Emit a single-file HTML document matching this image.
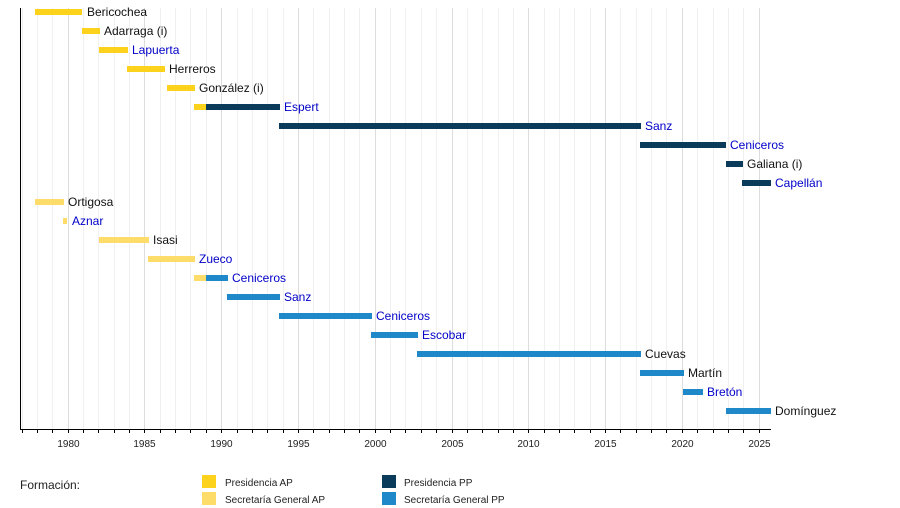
<!DOCTYPE html>
<html><head><meta charset="utf-8"><style>
html,body{margin:0;padding:0;background:#fff;width:900px;height:508px;overflow:hidden}
text{font-family:"Liberation Sans",sans-serif}
</style></head><body>
<svg width="900" height="508" xmlns="http://www.w3.org/2000/svg">
<g id="grid"></g>
<g id="bars"></g>
<line x1="20.5" y1="8" x2="20.5" y2="430" stroke="#000" stroke-width="1"/>
<line x1="20" y1="429.5" x2="771" y2="429.5" stroke="#000" stroke-width="1"/>
<g id="ticks"></g>
<text x="20" y="489" font-size="12" fill="#222">Formación:</text>
<rect x="202" y="475" width="14" height="13" fill="#fcd21c"/>
<rect x="202" y="492" width="14" height="13" fill="#fddc6a"/>
<rect x="382" y="475" width="14" height="13" fill="#0b3b5a"/>
<rect x="382" y="492" width="14" height="13" fill="#1e88c8"/>
<text x="225" y="486" font-size="10" fill="#222">Presidencia AP</text>
<text x="225" y="503" font-size="10" fill="#222">Secretaría General AP</text>
<text x="404" y="486" font-size="10" fill="#222">Presidencia PP</text>
<text x="404" y="503" font-size="10" fill="#222">Secretaría General PP</text>
</svg>
<script>
var ns="http://www.w3.org/2000/svg";
function el(p,t,a,txt){var e=document.createElementNS(ns,t);for(var k in a)e.setAttribute(k,a[k]);if(txt)e.textContent=txt;document.getElementById(p).appendChild(e);}
function X(y){return 67.6+(y-1980)*15.356;}
for(var y=1977;y<=2025;y++){var x=Math.round(X(y))+0.5;var maj=y%5==0;
el('grid','line',{x1:x,y1:8,x2:x,y2:429,stroke:maj?'#dcdcdc':'#f0f0f0','stroke-width':1});
el('ticks','line',{x1:x,y1:430,x2:x,y2:433,stroke:'#000','stroke-width':1});
if(maj)el('ticks','text',{x:x,y:447,'font-size':10,'text-anchor':'middle',fill:'#222'},String(y));}
var A='#fcd21c',L='#fddc6a',D='#0b3b5a',B='#1e88c8',BL='#0000c8',K='#111';
var rows=[
[[[35,82,A]],87,'Bericochea',K],
[[[82,100,A]],104,'Adarraga (i)',K],
[[[99,128,A]],132,'Lapuerta',BL],
[[[127,165,A]],169,'Herreros',K],
[[[167,195,A]],199,'González (i)',K],
[[[194,206,A],[206,280,D]],284,'Espert',BL],
[[[279,641,D]],645,'Sanz',BL],
[[[640,726,D]],730,'Ceniceros',BL],
[[[726,743,D]],747,'Galiana (i)',K],
[[[742,771,D]],775,'Capellán',BL],
[[[35,64,L]],68,'Ortigosa',K],
[[[63,67,L]],72,'Aznar',BL],
[[[99,149,L]],153,'Isasi',K],
[[[148,195,L]],199,'Zueco',BL],
[[[194,206,L],[206,228,B]],232,'Ceniceros',BL],
[[[227,280,B]],284,'Sanz',BL],
[[[279,372,B]],376,'Ceniceros',BL],
[[[371,418,B]],422,'Escobar',BL],
[[[417,641,B]],645,'Cuevas',K],
[[[640,684,B]],688,'Martín',K],
[[[683,703,B]],707,'Bretón',BL],
[[[726,771,B]],775,'Domínguez',K]];
rows.forEach(function(r,i){var cy=12+i*19;
r[0].forEach(function(b){el('bars','rect',{x:b[0],y:cy-3,width:b[1]-b[0],height:6,fill:b[2]});});
el('bars','text',{x:r[1],y:cy+4,'font-size':12,fill:r[3]},r[2]);});
</script>
</body></html>
